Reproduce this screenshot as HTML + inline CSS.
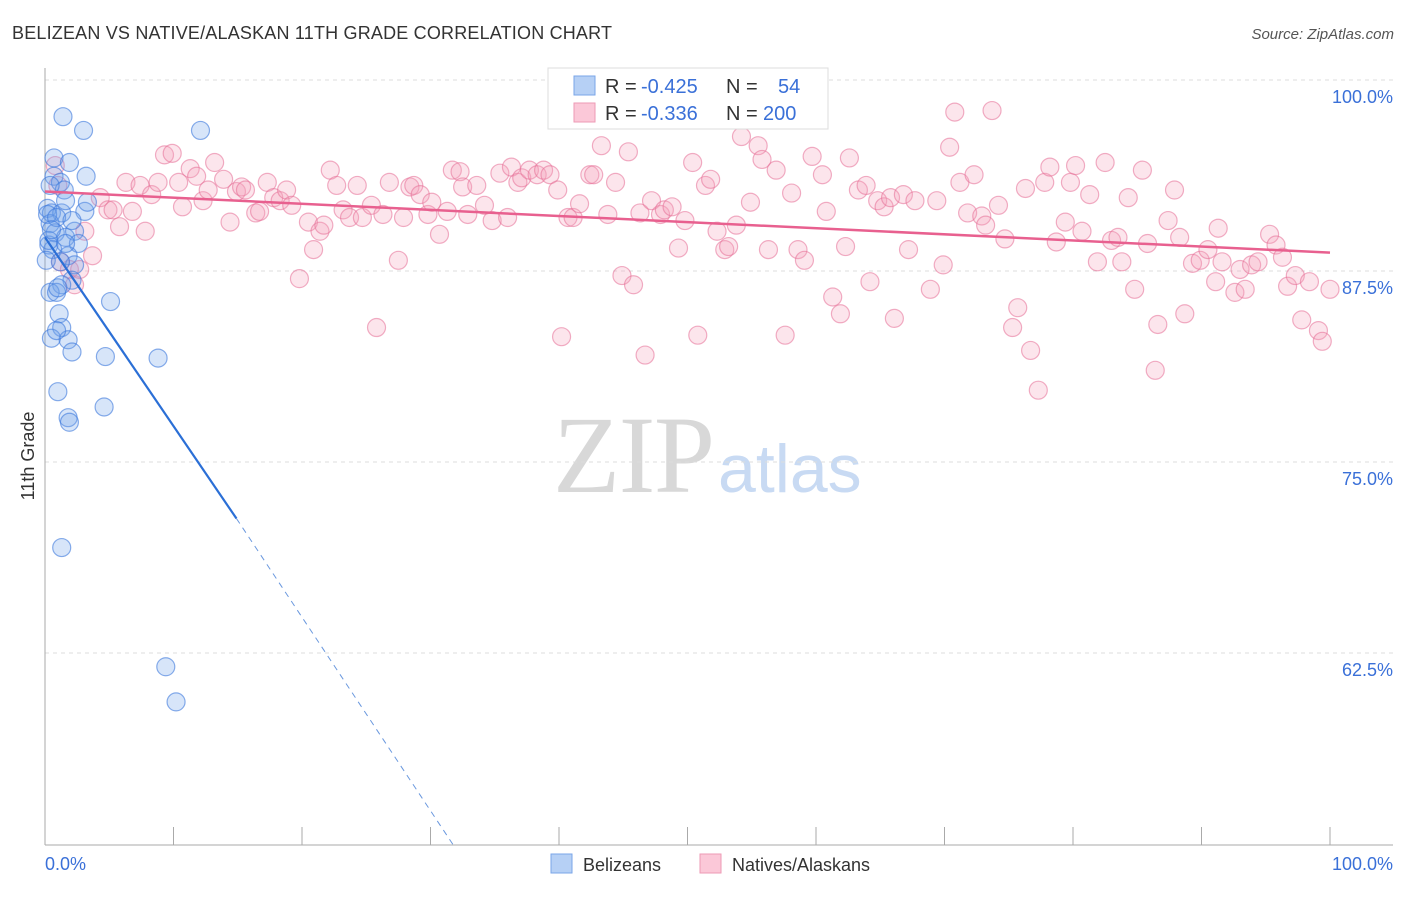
<!DOCTYPE html>
<html><head><meta charset="utf-8"><style>
body{margin:0;background:#fff;font-family:"Liberation Sans",sans-serif;}
svg text{font-family:"Liberation Sans",sans-serif;}
</style></head><body>
<svg id="chart" width="1406" height="892" viewBox="0 0 1406 892">
<text x="12" y="39" font-size="18" fill="#333" textLength="600">BELIZEAN VS NATIVE/ALASKAN 11TH GRADE CORRELATION CHART</text>
<text x="1394" y="39" font-size="15" fill="#555" font-style="italic" text-anchor="end">Source: ZipAtlas.com</text>
<text x="553" y="492" font-size="110" fill="#d8d8d8" textLength="162" style="font-family:'Liberation Serif',serif">ZIP</text>
<text x="718" y="492" font-size="68" fill="#c8daf3">atlas</text>
<g id="grid"></g>
<g id="axes"></g>
<g id="pts"></g>
<g id="trends"></g>
<text transform="translate(34,456) rotate(-90)" font-size="18" fill="#333" text-anchor="middle">11th Grade</text>
<g>
<rect x="548" y="68" width="280" height="61" fill="#fff" stroke="#ddd"/>
<rect x="574" y="76" width="21" height="19" fill="#b6d0f5" stroke="#7aa6e8"/>
<rect x="574" y="103" width="21" height="19" fill="#fbc8d8" stroke="#ee9ab5"/>
<text y="93" font-size="20"><tspan x="605" fill="#333">R = </tspan><tspan x="641" fill="#3a70d8">-0.425</tspan><tspan x="726" fill="#333">N = </tspan><tspan x="778" fill="#3a70d8">54</tspan></text>
<text y="120" font-size="20"><tspan x="605" fill="#333">R = </tspan><tspan x="641" fill="#3a70d8">-0.336</tspan><tspan x="726" fill="#333">N = </tspan><tspan x="763" fill="#3a70d8">200</tspan></text>
</g>
<g>
<rect x="551" y="854" width="21" height="19" fill="#b6d0f5" stroke="#7aa6e8"/>
<text x="583" y="871" font-size="18" fill="#333">Belizeans</text>
<rect x="700" y="854" width="21" height="19" fill="#fbc8d8" stroke="#ee9ab5"/>
<text x="732" y="871" font-size="18" fill="#333">Natives/Alaskans</text>
</g>
</svg>
<script>
const yTicks=[100,87.5,75,62.5];
const yTickLabels=["100.0%","87.5%","75.0%","62.5%"];
const xTicks=[0,10,20,30,40,50,60,70,80,90,100];
const xLabels=["0.0%","100.0%"];
const blueX=[1.4,3.0,12.1,0.7,1.9,0.7,3.2,1.2,1.5,0.2,0.5,1.3,1.6,3.1,3.3,0.4,0.8,1.6,2.3,2.6,0.3,0.6,1.8,2.3,2.1,1.3,0.4,0.9,5.1,1.1,1.3,0.5,1.8,2.1,4.7,8.8,1.0,4.6,1.8,1.9,1.3,9.4,10.2,0.2,0.9,0.3,1.2,1.0,0.9,0.4,1.6,2.1,0.5,0.1];
const blueY=[97.6,96.7,96.7,94.9,94.6,93.7,93.7,93.3,92.8,91.6,91.3,91.3,92.1,91.4,92.0,90.6,90.0,89.7,90.1,89.3,89.2,88.9,88.5,87.9,86.9,86.6,86.1,86.1,85.5,84.7,83.8,83.1,83.0,82.2,81.9,81.8,79.6,78.6,77.9,77.6,69.4,61.6,59.3,91.2,91.0,89.5,88.1,86.4,83.6,93.1,89.3,90.8,90.2,88.2];
const pinkX=[0.8,1.0,1.2,1.9,2.3,2.7,3.7,3.1,4.3,4.9,5.3,5.8,6.3,6.8,7.4,7.8,8.3,8.8,9.3,9.9,10.4,10.7,11.3,11.8,12.3,12.7,13.2,13.9,14.4,14.9,15.3,15.6,16.4,16.7,17.3,17.8,18.3,18.8,19.2,19.8,20.5,20.9,21.4,21.7,22.2,22.7,23.2,23.7,24.3,24.7,25.4,25.8,26.3,26.8,27.5,27.9,28.4,28.7,29.2,29.8,30.1,30.7,31.3,31.7,32.3,32.5,32.9,33.6,34.2,34.8,35.4,36.0,36.3,36.8,37.1,37.7,38.3,38.8,39.3,39.9,40.2,40.7,41.1,41.6,42.4,42.7,43.3,43.8,44.4,44.9,45.4,45.8,46.3,46.7,47.2,47.9,48.2,48.8,49.3,49.8,50.4,50.8,51.4,51.8,52.3,52.9,53.2,53.8,54.2,54.5,54.9,55.5,55.8,56.3,56.9,57.6,58.1,58.6,59.1,59.7,60.1,60.5,60.8,61.3,61.9,62.3,62.6,63.3,63.9,64.2,64.8,65.3,65.8,66.1,66.8,67.2,67.7,68.9,69.4,69.9,70.4,70.8,71.2,71.8,72.3,72.9,73.2,73.7,74.2,74.7,75.3,75.7,76.3,76.7,77.3,77.8,78.2,78.7,79.4,79.8,80.2,80.7,81.3,81.9,82.5,83.0,83.5,83.8,84.3,84.8,85.4,85.8,86.4,86.6,87.4,87.9,88.3,88.7,89.3,89.9,90.5,91.1,91.3,91.6,92.6,93.0,93.4,93.9,94.4,95.3,95.8,96.3,96.7,97.3,97.8,98.4,99.1,99.4,100.0];
const pinkY=[94.4,93.1,88.1,87.6,86.6,87.6,88.5,90.1,92.3,91.5,91.5,90.4,93.3,91.4,93.1,90.1,92.5,93.3,95.1,95.2,93.3,91.7,94.2,93.7,92.1,92.8,94.6,93.5,90.7,92.7,93.0,92.8,91.3,91.4,93.3,92.3,92.1,92.8,91.8,87.0,90.7,88.9,90.1,90.5,94.1,93.1,91.5,91.0,93.1,91.0,91.8,83.8,91.2,93.3,88.2,91.0,93.0,93.1,92.5,91.2,92.0,89.9,91.4,94.1,94.0,93.0,91.2,93.1,91.8,90.8,93.9,91.0,94.3,93.3,93.6,94.1,93.8,94.1,93.8,92.8,83.2,91.0,91.0,91.9,93.8,93.8,95.7,91.2,93.3,87.2,95.3,86.6,91.3,82.0,92.1,91.2,91.5,91.7,89.0,90.8,94.6,83.3,93.1,93.5,90.1,88.9,89.1,90.5,96.3,98.0,92.0,95.7,94.8,88.9,94.1,83.3,92.6,88.9,88.2,95.0,98.9,93.8,91.4,85.8,84.7,89.1,94.9,92.8,93.1,86.8,92.1,91.7,92.3,84.4,92.5,88.9,92.1,86.3,92.1,87.9,95.6,97.9,93.3,91.3,93.8,91.1,90.5,98.0,91.8,89.6,83.8,85.1,92.9,82.3,79.7,93.3,94.3,89.4,90.7,93.3,94.4,90.1,92.5,88.1,94.6,89.5,89.7,88.1,92.3,86.3,94.1,89.3,81.0,84.0,90.8,92.8,89.7,84.7,88.0,88.2,88.9,86.8,90.3,88.1,86.1,87.6,86.3,87.9,88.1,89.9,89.2,88.4,86.5,87.2,84.3,86.8,83.6,82.9,86.3];
const blueTrendX=[0,14.9,31.8];
const blueTrendY=[89.7,71.3,49.9];
const pinkTrendX=[0,100];
const pinkTrendY=[92.7,88.7];

const NS="http://www.w3.org/2000/svg";
const X0=45,X1=1330,YB=845;
const sx=v=>X0+(X1-X0)*v/100;
const sy=v=>80+(100-v)*191/12.5;
function mk(tag,attrs,parent){const e=document.createElementNS(NS,tag);for(const k in attrs)e.setAttribute(k,attrs[k]);parent.appendChild(e);return e;}
const grid=document.getElementById('grid'),axes=document.getElementById('axes'),pts=document.getElementById('pts'),tr=document.getElementById('trends');
yTicks.forEach((t,i)=>{
 const l=mk('line',{x1:X0,x2:1393,y1:sy(t),y2:sy(t),stroke:'#ddd','stroke-dasharray':'4,4'},grid);
 
 
 const tx=mk('text',{x:1393,y:sy(t)+23,'font-size':18,fill:'#3a70d8','text-anchor':'end'},axes);
 tx.textContent=yTickLabels[i];
 
 
});
const ya=mk('line',{x1:X0,x2:X0,y1:68,y2:YB,stroke:'#aaa'},axes);


const xa=mk('line',{x1:X0,x2:1393,y1:YB,y2:YB,stroke:'#aaa'},axes);


xTicks.forEach(t=>{
 const l=mk('line',{x1:sx(t),x2:sx(t),y1:YB-18,y2:YB,stroke:'#aaa'},axes);
 
 
});
const xl0=mk('text',{x:X0,y:870,'font-size':18,fill:'#3a70d8'},axes);xl0.textContent=xLabels[0];


const xl1=mk('text',{x:1393,y:870,'font-size':18,fill:'#3a70d8','text-anchor':'end'},axes);xl1.textContent=xLabels[1];


pinkX.forEach((v,i)=>{
 const c=mk('circle',{cx:sx(v),cy:sy(pinkY[i]),r:9,fill:'rgba(244,160,188,0.28)',stroke:'rgba(230,110,150,0.55)','stroke-width':1.2},pts);
 
 
});
blueX.forEach((v,i)=>{
 const c=mk('circle',{cx:sx(v),cy:sy(blueY[i]),r:9,fill:'rgba(110,160,235,0.28)',stroke:'rgba(60,120,220,0.6)','stroke-width':1.2},pts);
 
 
});
const pt=mk('line',{x1:sx(pinkTrendX[0]),y1:sy(pinkTrendY[0]),x2:sx(pinkTrendX[1]),y2:sy(pinkTrendY[1]),stroke:'#e8608f','stroke-width':2.5},tr);


const bt=mk('line',{x1:sx(blueTrendX[0]),y1:sy(blueTrendY[0]),x2:sx(blueTrendX[1]),y2:sy(blueTrendY[1]),stroke:'#2b6fd6','stroke-width':2.2},tr);


const bd=mk('line',{x1:sx(blueTrendX[1]),y1:sy(blueTrendY[1]),x2:sx(blueTrendX[2]),y2:sy(blueTrendY[2]),stroke:'#6a98de','stroke-width':1,'stroke-dasharray':'6,5'},tr);


</script>
</body></html>
